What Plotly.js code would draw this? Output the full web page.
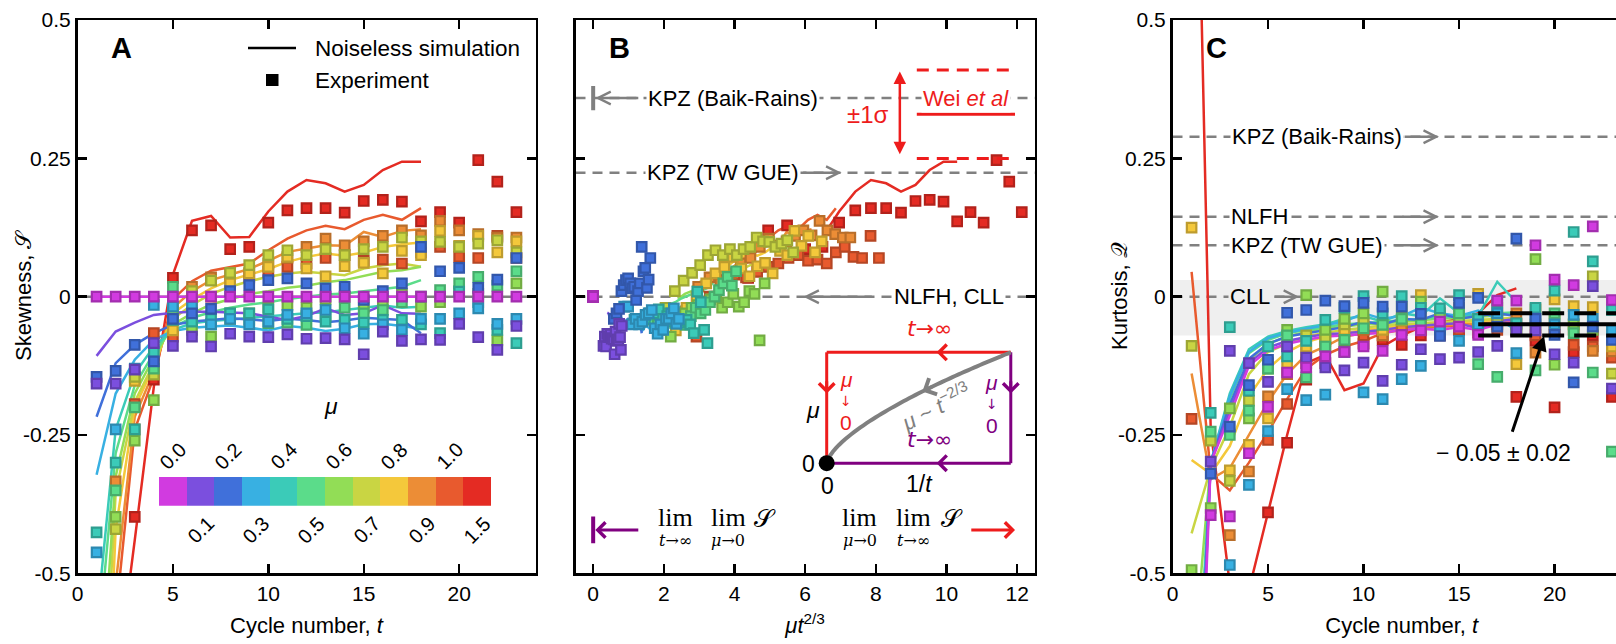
<!DOCTYPE html>
<html><head><meta charset="utf-8">
<script src="https://cdn.plot.ly/plotly-3.0.1.min.js"></script>
<style>html,body{margin:0;padding:0;overflow:hidden;background:#fff}#chart{width:1640px;height:644px}</style>
</head><body><div id="chart"></div>
<script>
// ---------------- DATA ----------------
const muValues = [0.0, 0.1, 0.2, 0.3, 0.4, 0.5, 0.6, 0.7, 0.8, 0.9, 1.0, 1.5];
const muLabels = ['0.0','0.1','0.2','0.3','0.4','0.5','0.6','0.7','0.8','0.9','1.0','1.5'];
const muColors = ['#D13BE0','#7B4FDE','#4070DA','#38B0E2','#3BCBB8','#5BDC8A','#92DD56','#C9D543','#F4C83B','#EC8D36','#E85A2E','#E42B23'];
const tExp = [1,2,3,4,5,6,7,8,9,10,11,12,13,14,15,16,17,18,19,20,21,22,23];
const tSim = [1,2,3,4,5,6,7,8,9,10,11,12,13,14,15,16,17,18];
const tMinPanelBExp = 5, tMinPanelBSim = 8;
const yTickVals = [-0.5, -0.25, 0, 0.25, 0.5];
const yTickText = ['-0.5', '-0.25', '0', '0.25', '0.5'];

// skewness, experiment (rows follow muValues)
const skewExp = [
 [0,0,0,0,0,0,0,0,0,0,0,0,0,0,0,0,0,0,0,0,0,0,0],
 [-0.157,-0.157,-0.132,-0.084,-0.089,-0.072,-0.090,-0.067,-0.072,-0.073,-0.068,-0.076,-0.075,-0.077,-0.104,-0.063,-0.080,-0.077,-0.078,-0.049,-0.073,-0.096,-0.053],
 [-0.145,-0.134,-0.087,-0.117,-0.040,-0.030,-0.022,0.010,0.021,0.030,0.033,0.024,0.015,0.018,-0.006,0.010,0.024,0.090,0.046,0.052,0.016,0.031,0.070],
 [-0.462,-0.240,-0.130,-0.015,-0.018,-0.018,-0.050,-0.040,-0.050,-0.045,-0.033,-0.030,-0.024,-0.057,-0.067,-0.050,-0.060,-0.040,-0.040,-0.030,-0.021,-0.049,-0.040],
 [-0.426,-0.300,-0.240,-0.100,-0.042,-0.045,-0.040,-0.030,-0.030,-0.023,-0.040,-0.035,-0.045,-0.042,-0.047,-0.042,-0.042,-0.050,-0.066,0.009,-0.010,-0.060,-0.084],
 [-0.550,-0.350,-0.200,-0.130,0.018,-0.042,-0.050,-0.030,-0.042,-0.048,-0.047,-0.051,-0.035,-0.020,-0.030,-0.024,-0.010,0.000,0.012,0.024,0.036,0.020,0.046],
 [-0.600,-0.398,-0.260,-0.187,-0.030,-0.060,-0.072,-0.040,-0.030,-0.020,-0.015,-0.020,-0.005,0.000,-0.020,-0.010,0.005,-0.018,-0.010,0.010,0.005,-0.079,0.024],
 [-0.620,-0.420,-0.145,-0.141,-0.020,0.010,0.029,0.043,0.057,0.075,0.084,0.075,0.086,0.075,0.086,0.090,0.107,0.100,0.099,0.090,0.096,0.102,0.080],
 [-0.700,-0.520,-0.152,-0.130,-0.061,-0.020,0.000,0.024,0.042,0.054,0.072,0.051,0.037,0.055,0.061,0.042,0.083,0.075,0.119,0.092,0.110,0.080,0.100],
 [-0.750,-0.334,-0.240,-0.120,-0.027,0.018,0.035,0.024,0.042,0.060,0.070,0.090,0.105,0.093,0.100,0.110,0.120,0.111,0.137,0.120,0.113,0.107,0.107],
 [-0.800,-0.550,-0.194,-0.066,-0.072,0.000,0.030,0.040,0.035,0.045,0.054,0.060,0.070,0.075,0.065,0.067,0.060,0.080,0.090,0.072,0.070,0.110,0.070],
 [-0.900,-0.700,-0.398,-0.150,0.034,0.120,0.129,0.086,0.090,0.134,0.156,0.160,0.160,0.152,0.173,0.175,0.172,0.136,0.153,0.134,0.247,0.208,0.153]
];
// skewness, noiseless simulation
const skewSim = [
 [0,0,0,0,0,0,0,0,0,0,0,0,0,0,0,0,0,0],
 [-0.107,-0.063,-0.047,-0.033,-0.029,-0.027,-0.027,-0.029,-0.030,-0.036,-0.042,-0.035,-0.021,-0.033,-0.030,-0.015,-0.030,-0.031],
 [-0.217,-0.120,-0.087,-0.066,-0.051,-0.045,-0.042,-0.039,-0.041,-0.044,-0.040,-0.042,-0.046,-0.043,-0.038,-0.040,-0.042,-0.066],
 [-0.322,-0.175,-0.114,-0.078,-0.062,-0.056,-0.054,-0.052,-0.056,-0.061,-0.053,-0.056,-0.062,-0.058,-0.050,-0.049,-0.053,-0.058],
 [-0.590,-0.240,-0.139,-0.090,-0.060,-0.048,-0.044,-0.041,-0.038,-0.036,-0.033,-0.030,-0.028,-0.024,-0.020,-0.016,-0.020,-0.018],
 [-0.660,-0.283,-0.160,-0.102,-0.055,-0.038,-0.028,-0.020,-0.014,-0.010,-0.004,0.000,0.004,0.006,0.010,0.014,0.018,0.030],
 [-0.830,-0.325,-0.175,-0.110,-0.050,-0.030,-0.014,-0.004,0.005,0.010,0.016,0.020,0.026,0.030,0.038,0.045,0.048,0.054],
 [-1.000,-0.355,-0.190,-0.120,-0.040,-0.015,0.005,0.018,0.028,0.036,0.042,0.045,0.042,0.039,0.051,0.057,0.060,0.054],
 [-1.220,-0.420,-0.200,-0.126,-0.030,-0.005,0.015,0.030,0.040,0.050,0.063,0.072,0.078,0.074,0.080,0.090,0.095,0.098],
 [-1.400,-0.520,-0.217,-0.135,-0.020,0.010,0.030,0.040,0.050,0.065,0.081,0.087,0.093,0.092,0.117,0.108,0.119,0.122],
 [-1.600,-0.580,-0.240,-0.145,-0.005,0.028,0.047,0.054,0.060,0.084,0.105,0.120,0.128,0.122,0.139,0.148,0.139,0.160],
 [-2.000,-0.710,-0.440,-0.163,0.040,0.137,0.146,0.107,0.108,0.154,0.190,0.211,0.205,0.190,0.202,0.229,0.244,0.244]
];
// kurtosis, experiment
const kurtExp = [
 [-0.60,-0.395,-0.397,-0.283,-0.199,-0.137,-0.128,-0.108,-0.100,-0.090,-0.098,-0.069,-0.061,-0.045,-0.054,-0.069,-0.007,-0.007,0.093,0.031,0.021,0.127,-0.006],
 [-0.60,-0.298,-0.098,-0.120,-0.154,-0.090,-0.110,-0.128,-0.133,-0.119,-0.152,-0.123,-0.095,-0.113,-0.110,-0.100,-0.089,-0.060,-0.061,-0.104,-0.119,0.019,-0.166],
 [-0.60,-0.320,-0.235,-0.160,-0.114,-0.029,-0.024,-0.007,-0.017,-0.011,-0.018,-0.018,-0.031,-0.071,-0.011,-0.002,-0.054,0.105,-0.040,-0.069,-0.155,-0.054,-0.078],
 [-0.60,-0.580,-0.485,-0.340,-0.243,-0.167,-0.187,-0.177,-0.100,-0.173,-0.185,-0.149,-0.125,-0.060,-0.080,-0.050,-0.030,-0.102,-0.039,-0.050,-0.033,-0.040,-0.060],
 [-0.60,-0.210,-0.055,-0.170,-0.090,-0.108,-0.080,-0.042,-0.020,0.001,-0.030,0.001,-0.020,-0.021,0.003,-0.040,-0.010,-0.048,-0.020,0.011,0.117,0.064,-0.024],
 [-0.60,-0.244,-0.250,-0.206,-0.130,-0.070,-0.146,-0.090,-0.078,-0.057,-0.051,-0.040,-0.050,-0.060,-0.030,-0.122,-0.145,-0.050,-0.133,-0.030,-0.066,-0.137,-0.280],
 [-0.494,-0.382,-0.202,-0.220,-0.130,-0.060,0.003,-0.060,-0.040,-0.030,0.009,-0.020,-0.009,-0.030,-0.040,-0.050,-0.030,-0.060,0.068,-0.123,-0.050,-0.060,-0.070],
 [-0.089,-0.260,-0.333,-0.188,-0.120,-0.090,-0.070,-0.073,-0.050,-0.045,-0.050,-0.043,-0.030,-0.040,-0.050,-0.040,-0.045,-0.060,-0.050,-0.040,-0.050,0.037,-0.139],
 [0.125,-0.520,-0.314,-0.268,-0.220,-0.120,-0.090,-0.070,-0.060,-0.050,-0.060,-0.040,0.003,-0.030,-0.020,0.005,-0.020,-0.122,-0.023,-0.005,-0.017,-0.019,-0.090],
 [-0.60,-0.520,-0.431,-0.316,-0.180,-0.140,-0.101,-0.080,-0.053,-0.060,-0.070,-0.060,-0.050,-0.060,-0.040,-0.050,-0.040,-0.030,-0.101,-0.060,-0.060,-0.098,-0.099],
 [-0.221,-0.560,-0.540,-0.520,-0.259,-0.194,-0.120,-0.090,-0.080,-0.070,-0.070,-0.060,-0.060,-0.050,-0.060,-0.050,-0.060,-0.050,-0.070,-0.060,-0.087,-0.090,-0.110],
 [-0.60,-0.60,-0.60,-0.60,-0.390,-0.264,-0.150,-0.120,-0.100,-0.085,-0.078,-0.087,-0.070,-0.070,-0.060,-0.065,-0.050,-0.181,-0.080,-0.200,-0.100,-0.070,-0.181]
];
// kurtosis, noiseless simulation
const kurtSim = [
 [-1.20,-0.300,-0.215,-0.125,-0.097,-0.085,-0.078,-0.072,-0.070,-0.068,-0.065,-0.060,-0.058,-0.060,-0.055,-0.060,-0.050,-0.045],
 [-1.10,-0.300,-0.205,-0.120,-0.092,-0.080,-0.073,-0.068,-0.066,-0.063,-0.060,-0.055,-0.052,-0.050,-0.048,-0.058,-0.045,-0.040],
 [-1.05,-0.300,-0.195,-0.112,-0.085,-0.072,-0.066,-0.060,-0.055,-0.045,-0.050,-0.040,-0.042,-0.030,-0.040,-0.035,-0.030,-0.035],
 [-1.00,-0.300,-0.180,-0.100,-0.075,-0.065,-0.058,-0.052,-0.045,-0.030,-0.040,-0.035,-0.020,-0.030,-0.035,-0.025,-0.040,-0.060],
 [-0.95,-0.300,-0.175,-0.095,-0.072,-0.062,-0.055,-0.050,-0.040,-0.035,-0.045,-0.030,-0.035,-0.003,-0.030,-0.035,0.027,-0.010],
 [-0.90,-0.300,-0.185,-0.102,-0.078,-0.066,-0.060,-0.055,-0.050,-0.048,-0.045,-0.042,-0.040,-0.038,-0.036,-0.032,-0.030,-0.028],
 [-0.70,-0.300,-0.200,-0.115,-0.085,-0.072,-0.064,-0.058,-0.054,-0.050,-0.048,-0.045,-0.042,-0.040,-0.038,-0.036,-0.034,-0.030],
 [-0.428,-0.310,-0.235,-0.140,-0.100,-0.085,-0.072,-0.065,-0.060,-0.056,-0.052,-0.050,-0.048,-0.046,-0.044,-0.042,-0.040,-0.038],
 [-0.295,-0.320,-0.270,-0.180,-0.130,-0.100,-0.082,-0.072,-0.066,-0.060,-0.056,-0.053,-0.050,-0.048,-0.046,-0.044,-0.042,-0.040],
 [-0.139,-0.330,-0.310,-0.250,-0.190,-0.140,-0.105,-0.090,-0.072,-0.066,-0.062,-0.058,-0.055,-0.052,-0.050,-0.048,-0.046,-0.044],
 [0.045,-0.320,-0.350,-0.300,-0.245,-0.185,-0.130,-0.105,-0.090,-0.080,-0.066,-0.060,-0.057,-0.054,-0.052,-0.050,-0.048,-0.046],
 [1.33,-0.240,-0.520,-0.530,-0.390,-0.250,-0.120,-0.105,-0.169,-0.157,-0.090,-0.070,-0.055,-0.048,-0.040,-0.030,0.003,0.015]
];
// reference levels
const kpzBaikRainsSkew = 0.359, kpzTWGUESkew = 0.224, nlfhSkew = 0;
const weiMean = 0.33, weiSigma = 0.08;
const kpzBaikRainsKurt = 0.289, nlfhKurt = 0.1445, kpzTWGUEKurt = 0.093, cllKurt = 0;
const cllBand = [-0.07, 0.03];
const fitKurt = -0.05, fitKurtErr = 0.02;

// ---------------- LAYOUT HELPERS ----------------
const W = 1640, H = 644;
const FONT = 'Liberation Sans, Arial, Helvetica, sans-serif';
const SYM = 'DejaVu Sans, Liberation Sans, sans-serif';
const SERIF = 'Liberation Serif, Times New Roman, serif';
const SERIFSYM = 'DejaVu Serif, Liberation Serif, serif';
const px = X => X / W, py = Y => 1 - Y / H;
function darken(hex, f) {
  const n = parseInt(hex.slice(1), 16);
  const r = Math.round(((n >> 16) & 255) * f), g = Math.round(((n >> 8) & 255) * f), b = Math.round((n & 255) * f);
  return 'rgb(' + r + ',' + g + ',' + b + ')';
}
const GRAY = '#808080', RED = '#EE1C1C', PURPLE = '#800080';
const MS = 9.5, MLW = 2.2;

const traces = [];
const order = muValues.map((_, i) => muValues.length - 1 - i);
function markerStyle(i) { return {symbol: 'square', size: MS, color: muColors[i], line: {color: darken(muColors[i], 0.78), width: MLW}}; }

// Panel A
order.forEach(i => traces.push({type: 'scatter', mode: 'lines', x: tSim, y: skewSim[i], xaxis: 'x', yaxis: 'y',
  line: {color: muColors[i], width: 2.5}, showlegend: false, hoverinfo: 'skip'}));
order.forEach(i => traces.push({type: 'scatter', mode: 'markers', x: tExp, y: skewExp[i], xaxis: 'x', yaxis: 'y',
  marker: markerStyle(i), showlegend: false, hoverinfo: 'skip'}));

// Panel B: scaled abscissa mu * t^(2/3)
function scaled(mu, ts) { return ts.map(t => mu * Math.pow(t, 2 / 3)); }
function keep(arr, ts, tmin) { return arr.filter((_, k) => ts[k] >= tmin); }
order.forEach(i => traces.push({type: 'scatter', mode: 'lines', x: keep(scaled(muValues[i], tSim), tSim, tMinPanelBSim), y: keep(skewSim[i], tSim, tMinPanelBSim),
  xaxis: 'x2', yaxis: 'y2', line: {color: muColors[i], width: 2.5}, showlegend: false, hoverinfo: 'skip'}));
order.forEach(i => traces.push({type: 'scatter', mode: 'markers', x: keep(scaled(muValues[i], tExp), tExp, tMinPanelBExp), y: keep(skewExp[i], tExp, tMinPanelBExp),
  xaxis: 'x2', yaxis: 'y2', marker: markerStyle(i), showlegend: false, hoverinfo: 'skip'}));

// Panel C
order.forEach(i => traces.push({type: 'scatter', mode: 'lines', x: tSim, y: kurtSim[i], xaxis: 'x3', yaxis: 'y3',
  line: {color: muColors[i], width: 2.5}, showlegend: false, hoverinfo: 'skip'}));
order.forEach(i => traces.push({type: 'scatter', mode: 'markers', x: tExp, y: kurtExp[i], xaxis: 'x3', yaxis: 'y3',
  marker: markerStyle(i), showlegend: false, hoverinfo: 'skip'}));

// Colour key (discrete)
const nMu = muValues.length;
const cscale = [];
muColors.forEach((c, i) => { cscale.push([i / nMu, c]); cscale.push([(i + 1) / nMu, c]); });
traces.push({type: 'heatmap', z: [muValues.map((_, i) => i)], x: muValues.map((_, i) => i), y: [0],
  xaxis: 'x4', yaxis: 'y4', colorscale: cscale, zmin: -0.5, zmax: nMu - 0.5, showscale: false, hoverinfo: 'skip'});

// ---------------- AXES ----------------
const axBase = {showline: true, linecolor: 'black', linewidth: 2.5, mirror: 'ticks', ticks: 'inside', ticklen: 9,
  tickwidth: 2.5, tickcolor: 'black', showgrid: false, zeroline: false, tickfont: {size: 21, color: 'black', family: FONT}, fixedrange: true};
const yDom = [py(573.3), py(20.1)];
const layout = {
  width: W, height: H, margin: {l: 0, r: 0, t: 0, b: 0}, paper_bgcolor: 'white', plot_bgcolor: 'white',
  font: {family: FONT, color: 'black', size: 21},
  showlegend: false,
  xaxis: Object.assign({}, axBase, {domain: [px(77.5), px(535.5)], range: [0, 24], tickvals: [0, 5, 10, 15, 20], anchor: 'y',
    title: {text: 'Cycle number, <i>t</i>', font: {size: 22}, standoff: 14}}),
  yaxis: Object.assign({}, axBase, {domain: yDom, range: [-0.5, 0.5], tickvals: yTickVals, ticktext: yTickText, anchor: 'x'}),
  xaxis2: Object.assign({}, axBase, {domain: [px(575.5), px(1034.8)], range: [-0.5, 12.5], tickvals: [0, 2, 4, 6, 8, 10, 12], anchor: 'y2',
    title: {text: '<i>μt</i><sup>2/3</sup>', font: {size: 22}, standoff: 14}}),
  yaxis2: Object.assign({}, axBase, {domain: yDom, range: [-0.5, 0.5], tickvals: yTickVals, showticklabels: false, anchor: 'x2'}),
  xaxis3: Object.assign({}, axBase, {domain: [px(1172.5), px(1631)], range: [0, 24], tickvals: [0, 5, 10, 15, 20], anchor: 'y3',
    title: {text: 'Cycle number, <i>t</i>', font: {size: 22}, standoff: 14}}),
  yaxis3: Object.assign({}, axBase, {domain: yDom, range: [-0.5, 0.5], tickvals: yTickVals, ticktext: yTickText, anchor: 'x3'}),
  xaxis4: {domain: [px(159), px(491)], range: [-0.5, nMu - 0.5], visible: false, anchor: 'y4', fixedrange: true},
  yaxis4: {domain: [py(505.7), py(477)], range: [-0.5, 0.5], visible: false, anchor: 'x4', fixedrange: true},
  shapes: [], annotations: []
};
const S = layout.shapes, A = layout.annotations;
function hline(xr, yr, x0, x1, y, color, width, dash, layer) {
  S.push({type: 'line', xref: xr, yref: yr, x0: x0, x1: x1, y0: y, y1: y, line: {color: color, width: width, dash: dash || 'solid'}, layer: layer || 'above'});
}
function vline(xr, yr, x, y0, y1, color, width, layer) {
  S.push({type: 'line', xref: xr, yref: yr, x0: x, x1: x, y0: y0, y1: y1, line: {color: color, width: width}, layer: layer || 'above'});
}
function txt(xr, yr, x, y, text, o) {
  o = o || {};
  A.push({xref: xr, yref: yr, x: x, y: y, text: text, showarrow: false, xanchor: o.xanchor || 'center', yanchor: o.yanchor || 'middle',
    textangle: o.angle || 0, bgcolor: o.bg || 'rgba(0,0,0,0)', borderpad: o.pad === undefined ? 1 : o.pad,
    font: {size: o.size || 22, color: o.color || 'black', family: o.family || FONT}});
}
function arrow(xr, yr, x0, y0, x1, y1, color, width, head, size, side) {
  A.push({xref: xr, yref: yr, axref: xr, ayref: yr, x: x1, y: y1, ax: x0, ay: y0, text: '', showarrow: true,
    arrowhead: head, arrowsize: size || 1, arrowwidth: width, arrowcolor: color, arrowside: side || 'end', standoff: 0, startstandoff: 0});
}
const DASH = '10px,7px';

// ---- Panel A decorations
hline('x', 'y', 0, 24, 0, GRAY, 2.5, 'solid', 'below');
txt('paper', 'paper', px(121), py(48), '<b>A</b>', {size: 29});
txt('paper', 'paper', px(23), py(296), 'Skewness, 𝒮', {angle: -90, size: 22});
// key for line / marker
S.push({type: 'line', xref: 'paper', yref: 'paper', x0: px(248), x1: px(296), y0: py(48), y1: py(48), line: {color: 'black', width: 2.5}});
S.push({type: 'rect', xref: 'paper', yref: 'paper', x0: px(266), x1: px(278.5), y0: py(86), y1: py(74), fillcolor: 'black', line: {width: 0}});
txt('paper', 'paper', px(313), py(48), 'Noiseless simulation', {xanchor: 'left', size: 22.5});
txt('paper', 'paper', px(313), py(80), 'Experiment', {xanchor: 'left', size: 22.5});
txt('paper', 'paper', px(331), py(406), '<i>μ</i>', {size: 23});
muLabels.forEach((lab, i) => {
  if (i % 2 === 0) txt('x4', 'paper', i, py(456), lab, {angle: -45, size: 20});
  else txt('x4', 'paper', i, py(530), lab, {angle: -45, size: 20});
});

// ---- Panel B decorations
hline('x2', 'y2', -0.5, 12.5, kpzBaikRainsSkew, GRAY, 2.5, DASH, 'below');
hline('x2', 'y2', -0.5, 12.5, kpzTWGUESkew, GRAY, 2.5, DASH, 'below');
hline('x2', 'y2', -0.5, 12.5, nlfhSkew, GRAY, 2.5, DASH, 'below');
txt('paper', 'paper', px(619), py(48), '<b>B</b>', {size: 29});
vline('x2', 'y2', 0, kpzBaikRainsSkew - 0.022, kpzBaikRainsSkew + 0.022, GRAY, 4);
arrow('x2', 'y2', 1.32, kpzBaikRainsSkew, 0.06, kpzBaikRainsSkew, GRAY, 2.5, 5, 1);
txt('x2', 'y2', 3.96, kpzBaikRainsSkew, 'KPZ (Baik-Rains)', {bg: 'white'});
txt('x2', 'y2', 3.68, kpzTWGUESkew, 'KPZ (TW GUE)', {bg: 'white'});
arrow('x2', 'y2', 5.9, kpzTWGUESkew, 7.03, kpzTWGUESkew, GRAY, 2.5, 5, 1);
txt('x2', 'y2', 10.07, nlfhSkew, 'NLFH, CLL', {bg: 'white'});
arrow('x2', 'y2', 7.93, nlfhSkew, 5.95, nlfhSkew, GRAY, 2.5, 5, 1);
// Wei et al
hline('x2', 'y2', 9.16, 11.94, weiMean + weiSigma, RED, 3, '12px,8px');
hline('x2', 'y2', 9.16, 11.94, weiMean - weiSigma, RED, 3, '12px,8px');
hline('x2', 'y2', 9.16, 11.94, weiMean, RED, 3);
txt('x2', 'y2', 10.55, kpzBaikRainsSkew, 'Wei <i>et al</i>', {color: RED, bg: 'white'});
arrow('x2', 'y2', 8.68, weiMean - weiSigma + 0.005, 8.68, weiMean + weiSigma - 0.003, RED, 2.5, 2, 1, 'end+start');
txt('x2', 'y2', 7.79, weiMean, '±1σ', {color: RED, size: 24});
// inset diagram
const xL = 6.61, xR = 11.82, yT = -0.1005, yB = -0.301;
hline('x2', 'y2', xL, xR, yT, RED, 3);
vline('x2', 'y2', xL, yT, yB, RED, 3);
vline('x2', 'y2', xR, yT, yB, PURPLE, 3);
hline('x2', 'y2', xL, xR, yB, PURPLE, 3);
arrow('x2', 'y2', 9.95, yT, 9.72, yT, RED, 3, 4, 1);
arrow('x2', 'y2', xL, -0.15, xL, -0.175, RED, 3, 4, 1);
arrow('x2', 'y2', xR, -0.15, xR, -0.175, PURPLE, 3, 4, 1);
arrow('x2', 'y2', 9.95, yB, 9.72, yB, PURPLE, 3, 4, 1);
const cx = u => xL + u * (xR - xL), cy = u => yB + (yT - yB) * Math.pow(u, 2 / 3);
let path = '';
for (let k = 0; k <= 60; k++) { const u = k / 60; path += (k ? ' L' : 'M') + cx(u).toFixed(4) + ',' + cy(u).toFixed(5); }
S.push({type: 'path', xref: 'x2', yref: 'y2', path: path, line: {color: GRAY, width: 4}});
arrow('x2', 'y2', cx(0.58), cy(0.58), cx(0.52), cy(0.52), GRAY, 3.5, 4, 1);
S.push({type: 'circle', xref: 'x2', yref: 'y2', xsizemode: 'pixel', ysizemode: 'pixel', xanchor: xL, yanchor: yB,
  x0: -8, x1: 8, y0: -8, y1: 8, fillcolor: 'black', line: {color: 'black', width: 0}});
txt('x2', 'y2', 9.53, -0.057, '<i>t</i>→∞', {color: RED, size: 22, family: SYM});
txt('x2', 'y2', 6.23, -0.205, '<i>μ</i>', {size: 23});
[[7.17, -0.149, RED], [11.28, -0.155, PURPLE]].forEach(p => {
  txt('x2', 'y2', p[0], p[1], '<i>μ</i>', {color: p[2], size: 21, pad: 0});
  txt('x2', 'y2', p[0], p[1] - 0.039, '↓', {color: p[2], size: 14, family: SYM, pad: 0});
  txt('x2', 'y2', p[0], p[1] - 0.078, '0', {color: p[2], size: 21, pad: 0});
});
txt('x2', 'y2', 9.70, -0.197, '<i>μ</i> ~ <i>t</i><sup>−2/3</sup>', {color: GRAY, angle: -27, size: 22});
txt('x2', 'y2', 9.53, -0.259, '<i>t</i>→∞', {color: PURPLE, size: 22, family: SYM});
txt('x2', 'y2', 6.09, -0.302, '0', {size: 23});
txt('x2', 'y2', 6.64, -0.342, '0', {size: 23});
txt('x2', 'y2', 9.25, -0.338, '1/<i>t</i>', {size: 23});
// bottom limits (lim on a baseline, its subscript just below)
const limBase = -0.427;
vline('x2', 'y2', 0, -0.3975, -0.4456, PURPLE, 4);
arrow('x2', 'y2', 1.32, -0.4217, 0.06, -0.4217, PURPLE, 3, 4, 1);
arrow('x2', 'y2', 10.66, -0.4217, 11.94, -0.4217, RED, 3, 4, 1);
[[2.32, '<i>t</i>→∞'], [3.82, '<i>μ</i>→0'], [7.55, '<i>μ</i>→0'], [9.06, '<i>t</i>→∞']].forEach(p => {
  txt('x2', 'y2', p[0], limBase, 'lim', {family: SERIF, size: 26, yanchor: 'bottom', pad: 0});
  txt('x2', 'y2', p[0], limBase + 0.006, p[1], {family: SERIFSYM, size: 16, yanchor: 'top', pad: 0});
});
txt('x2', 'y2', 4.86, limBase, '𝒮', {family: SERIF, size: 25, yanchor: 'bottom', pad: 0});
txt('x2', 'y2', 10.16, limBase, '𝒮', {family: SERIF, size: 25, yanchor: 'bottom', pad: 0});

// ---- Panel C decorations
S.push({type: 'rect', xref: 'x3', yref: 'y3', x0: 0, x1: 24, y0: cllBand[0], y1: cllBand[1], fillcolor: '#EFEFEF', line: {width: 0}, layer: 'below'});
[kpzBaikRainsKurt, nlfhKurt, kpzTWGUEKurt, cllKurt].forEach(v => hline('x3', 'y3', 0, 24, v, GRAY, 2.5, DASH, 'below'));
txt('paper', 'paper', px(1216), py(48), '<b>C</b>', {size: 29});
txt('paper', 'paper', px(1119), py(296), 'Kurtosis, 𝒬', {angle: -90, size: 22});
txt('x3', 'y3', 7.55, kpzBaikRainsKurt, 'KPZ (Baik-Rains)', {bg: 'white'});
arrow('x3', 'y3', 12.07, kpzBaikRainsKurt, 13.95, kpzBaikRainsKurt, GRAY, 2.5, 5, 1);
txt('x3', 'y3', 4.53, nlfhKurt, 'NLFH', {bg: 'white'});
arrow('x3', 'y3', 11.96, nlfhKurt, 13.95, nlfhKurt, GRAY, 2.5, 5, 1);
txt('x3', 'y3', 7.04, kpzTWGUEKurt, 'KPZ (TW GUE)', {bg: 'white'});
arrow('x3', 'y3', 11.54, kpzTWGUEKurt, 13.95, kpzTWGUEKurt, GRAY, 2.5, 5, 1);
txt('x3', 'y3', 4.06, cllKurt, 'CLL', {bg: '#EFEFEF'});
arrow('x3', 'y3', 5.26, cllKurt, 6.63, cllKurt, GRAY, 2.5, 5, 1);
hline('x3', 'y3', 16, 24, fitKurt, 'black', 4);
hline('x3', 'y3', 16, 24, fitKurt + fitKurtErr, 'black', 4, '22px,10px');
hline('x3', 'y3', 16, 24, fitKurt - fitKurtErr, 'black', 4, '22px,10px');
txt('x3', 'y3', 17.3, -0.283, '− 0.05 ± 0.02', {size: 23});
arrow('x3', 'y3', 17.76, -0.247, 19.45, -0.071, 'black', 3, 2, 1);

Plotly.newPlot('chart', traces, layout, {displayModeBar: false, staticPlot: true, responsive: false});
</script>
</body></html>
